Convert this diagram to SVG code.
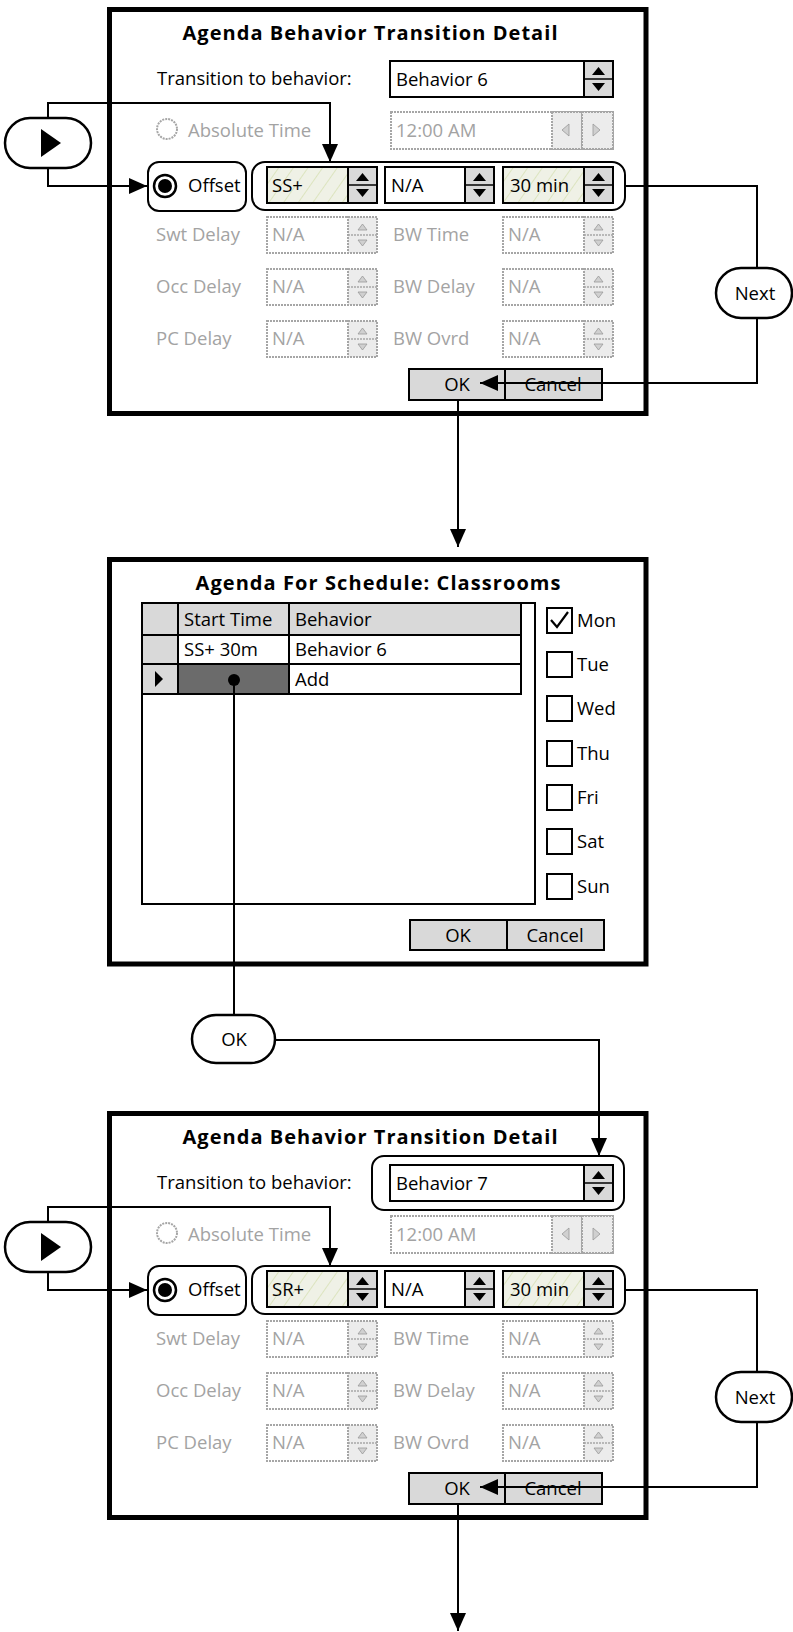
<svg xmlns="http://www.w3.org/2000/svg" xmlns:xlink="http://www.w3.org/1999/xlink" width="793" height="1632" viewBox="0 0 793 1632">
<defs>
<style>
.frame{fill:#fff;stroke:#000;stroke-width:5}
.t{font-family:"Open Sans","Liberation Sans",sans-serif;font-size:18.5px;fill:#000}
.title{font-weight:bold;font-size:20px}
.dis{fill:#a3a3a3}
.box{fill:#fff;stroke:#000;stroke-width:2}
.hbox{fill:url(#hatch);stroke:#000;stroke-width:2}
.spin{fill:#d9d9d9;stroke:#000;stroke-width:2}
.dbox{fill:#fff;stroke:#a6a6a6;stroke-width:2;stroke-dasharray:2 1}
.dspin{fill:#ececec;stroke:#a6a6a6;stroke-width:2;stroke-dasharray:2 1}
.rnd{fill:none;stroke:#000;stroke-width:2}
.pill{fill:#fff;stroke:#000;stroke-width:2.5}
.conn{fill:none;stroke:#000;stroke-width:2}
.btn{fill:#d9d9d9;stroke:#000;stroke-width:2}
.gray{fill:#d9d9d9;stroke:#000;stroke-width:2}
.cb{fill:#fff;stroke:#000;stroke-width:2}
</style>
<pattern id="hatch" width="12" height="12" patternUnits="userSpaceOnUse" patternTransform="rotate(35)">
<rect width="12" height="12" fill="#eff1e6"/>
<line x1="0" y1="0" x2="0" y2="12" stroke="#d6e0b2" stroke-width="1.5"/>
</pattern>
<marker id="arr" viewBox="0 0 18 16" refX="18" refY="8" markerWidth="18" markerHeight="16" markerUnits="userSpaceOnUse" orient="auto">
<path d="M0,0 L18,8 L0,16 z" fill="#000"/>
</marker>
<g id="asp">
<rect width="29" height="36" class="spin"/>
<line x1="0" y1="18" x2="29" y2="18" stroke="#000" stroke-width="1.5"/>
<path d="M8,14 L21,14 L14.5,6 z M8,22 L21,22 L14.5,30 z" fill="#000"/>
</g>
<g id="dsp">
<rect width="29" height="36" class="dspin"/>
<line x1="0" y1="18" x2="29" y2="18" stroke="#a6a6a6" stroke-width="1.5" stroke-dasharray="2 1"/>
<path d="M10,13 L19,13 L14.5,7 z M10,23 L19,23 L14.5,29 z" fill="#d0d0d0" stroke="#999" stroke-width="0.8"/>
</g>
</defs>

<g id="dialog1">
<rect class="frame" x="109.5" y="9.5" width="536.5" height="404"/>
<text class="t title" x="370" y="40" text-anchor="middle" textLength="375" lengthAdjust="spacing">Agenda Behavior Transition Detail</text>
<text class="t" x="157" y="85">Transition to behavior:</text>
<rect class="box" x="390" y="61" width="223" height="36"/>
<use xlink:href="#asp" x="584" y="61"/>
<text class="t" x="396" y="86">Behavior 6</text>
<circle cx="167" cy="129" r="10" fill="#fff" stroke="#a6a6a6" stroke-width="2" stroke-dasharray="2 1"/>
<text class="t dis" x="188" y="137">Absolute Time</text>
<rect class="dbox" x="391" y="112" width="222" height="37"/>
<rect class="dspin" x="552" y="112" width="30" height="37"/>
<rect class="dspin" x="582" y="112" width="31" height="37"/>
<path d="M569,124 L569,136 L562,130 z M593,124 L593,136 L600,130 z" fill="#d0d0d0" stroke="#999" stroke-width="0.8"/>
<text class="t dis" x="396" y="137">12:00 AM</text>
<rect class="rnd" x="148" y="162" width="98" height="49" rx="11"/>
<circle cx="165" cy="186" r="11" fill="#fff" stroke="#000" stroke-width="2.5"/>
<circle cx="165" cy="186" r="7" fill="#000"/>
<text class="t" x="188" y="192">Offset</text>
<rect class="rnd" x="252" y="162" width="373" height="48" rx="13"/>
<rect class="hbox" x="267" y="167" width="110" height="36"/>
<use xlink:href="#asp" x="348" y="167"/>
<text class="t" x="272" y="192">SS+</text>
<rect class="box" x="385" y="167" width="109" height="36"/>
<use xlink:href="#asp" x="465" y="167"/>
<text class="t" x="391" y="192">N/A</text>
<rect class="hbox" x="503" y="167" width="110" height="36"/>
<use xlink:href="#asp" x="584" y="167"/>
<text class="t" x="510" y="192">30 min</text>
<text class="t dis" x="156" y="241">Swt Delay</text>
<rect class="dbox" x="267" y="217" width="110" height="36"/>
<use xlink:href="#dsp" x="348" y="217"/>
<text class="t dis" x="272" y="241">N/A</text>
<text class="t dis" x="393" y="241">BW Time</text>
<rect class="dbox" x="503" y="217" width="110" height="36"/>
<use xlink:href="#dsp" x="584" y="217"/>
<text class="t dis" x="508" y="241">N/A</text>
<text class="t dis" x="156" y="293">Occ Delay</text>
<rect class="dbox" x="267" y="269" width="110" height="36"/>
<use xlink:href="#dsp" x="348" y="269"/>
<text class="t dis" x="272" y="293">N/A</text>
<text class="t dis" x="393" y="293">BW Delay</text>
<rect class="dbox" x="503" y="269" width="110" height="36"/>
<use xlink:href="#dsp" x="584" y="269"/>
<text class="t dis" x="508" y="293">N/A</text>
<text class="t dis" x="156" y="345">PC Delay</text>
<rect class="dbox" x="267" y="321" width="110" height="36"/>
<use xlink:href="#dsp" x="348" y="321"/>
<text class="t dis" x="272" y="345">N/A</text>
<text class="t dis" x="393" y="345">BW Ovrd</text>
<rect class="dbox" x="503" y="321" width="110" height="36"/>
<use xlink:href="#dsp" x="584" y="321"/>
<text class="t dis" x="508" y="345">N/A</text>
<rect class="btn" x="409" y="369" width="193" height="31"/>
<line x1="505" y1="369" x2="505" y2="400" stroke="#000" stroke-width="2"/>
<text class="t" x="457" y="391" text-anchor="middle">OK</text>
<text class="t" x="553" y="391" text-anchor="middle">Cancel</text>
</g>

<g id="dialog2">
<rect class="frame" x="109.5" y="559.5" width="536.5" height="404.5"/>
<text class="t title" x="378" y="590" text-anchor="middle" textLength="365" lengthAdjust="spacing">Agenda For Schedule: Classrooms</text>
<rect x="142" y="603" width="393" height="301" fill="#fff" stroke="#000" stroke-width="2"/>
<rect class="gray" x="142" y="603" width="379" height="32"/>
<rect class="box" x="142" y="635" width="379" height="29"/>
<rect class="box" x="142" y="664" width="379" height="30"/>
<rect class="gray" x="142" y="635" width="36" height="29"/>
<rect class="gray" x="142" y="664" width="36" height="30"/>
<rect x="178" y="664" width="111" height="30" fill="#6b6b6b" stroke="#000" stroke-width="2"/>
<line x1="178" y1="603" x2="178" y2="694" stroke="#000" stroke-width="2"/>
<line x1="289" y1="603" x2="289" y2="694" stroke="#000" stroke-width="2"/>
<path d="M155,671 L163,679 L155,687 z" fill="#000"/>
<text class="t" x="184" y="626">Start Time</text>
<text class="t" x="295" y="626">Behavior</text>
<text class="t" x="184" y="656">SS+ 30m</text>
<text class="t" x="295" y="656">Behavior 6</text>
<text class="t" x="295" y="686">Add</text>
<rect class="cb" x="547" y="608" width="25" height="25"/>
<path d="M551,620 L557,627 L568,612" fill="none" stroke="#000" stroke-width="2.2"/>
<text class="t" x="577" y="627">Mon</text>
<rect class="cb" x="547" y="652" width="25" height="25"/>
<text class="t" x="577" y="671">Tue</text>
<rect class="cb" x="547" y="696" width="25" height="25"/>
<text class="t" x="577" y="715">Wed</text>
<rect class="cb" x="547" y="741" width="25" height="25"/>
<text class="t" x="577" y="760">Thu</text>
<rect class="cb" x="547" y="785" width="25" height="25"/>
<text class="t" x="577" y="804">Fri</text>
<rect class="cb" x="547" y="829" width="25" height="25"/>
<text class="t" x="577" y="848">Sat</text>
<rect class="cb" x="547" y="874" width="25" height="25"/>
<text class="t" x="577" y="893">Sun</text>
<rect class="btn" x="410" y="920" width="194" height="30"/>
<line x1="507" y1="920" x2="507" y2="950" stroke="#000" stroke-width="2"/>
<text class="t" x="458" y="942" text-anchor="middle">OK</text>
<text class="t" x="555" y="942" text-anchor="middle">Cancel</text>
</g>

<g id="dialog3" transform="translate(0,1104)">
<rect class="frame" x="109.5" y="9.5" width="536.5" height="404"/>
<text class="t title" x="370" y="40" text-anchor="middle" textLength="375" lengthAdjust="spacing">Agenda Behavior Transition Detail</text>
<text class="t" x="157" y="85">Transition to behavior:</text>
<rect class="rnd" x="372" y="52" width="252" height="54" rx="12"/>
<rect class="box" x="390" y="61" width="223" height="36"/>
<use xlink:href="#asp" x="584" y="61"/>
<text class="t" x="396" y="86">Behavior 7</text>
<circle cx="167" cy="129" r="10" fill="#fff" stroke="#a6a6a6" stroke-width="2" stroke-dasharray="2 1"/>
<text class="t dis" x="188" y="137">Absolute Time</text>
<rect class="dbox" x="391" y="112" width="222" height="37"/>
<rect class="dspin" x="552" y="112" width="30" height="37"/>
<rect class="dspin" x="582" y="112" width="31" height="37"/>
<path d="M569,124 L569,136 L562,130 z M593,124 L593,136 L600,130 z" fill="#d0d0d0" stroke="#999" stroke-width="0.8"/>
<text class="t dis" x="396" y="137">12:00 AM</text>
<rect class="rnd" x="148" y="162" width="98" height="49" rx="11"/>
<circle cx="165" cy="186" r="11" fill="#fff" stroke="#000" stroke-width="2.5"/>
<circle cx="165" cy="186" r="7" fill="#000"/>
<text class="t" x="188" y="192">Offset</text>
<rect class="rnd" x="252" y="162" width="373" height="48" rx="13"/>
<rect class="hbox" x="267" y="167" width="110" height="36"/>
<use xlink:href="#asp" x="348" y="167"/>
<text class="t" x="272" y="192">SR+</text>
<rect class="box" x="385" y="167" width="109" height="36"/>
<use xlink:href="#asp" x="465" y="167"/>
<text class="t" x="391" y="192">N/A</text>
<rect class="hbox" x="503" y="167" width="110" height="36"/>
<use xlink:href="#asp" x="584" y="167"/>
<text class="t" x="510" y="192">30 min</text>
<text class="t dis" x="156" y="241">Swt Delay</text>
<rect class="dbox" x="267" y="217" width="110" height="36"/>
<use xlink:href="#dsp" x="348" y="217"/>
<text class="t dis" x="272" y="241">N/A</text>
<text class="t dis" x="393" y="241">BW Time</text>
<rect class="dbox" x="503" y="217" width="110" height="36"/>
<use xlink:href="#dsp" x="584" y="217"/>
<text class="t dis" x="508" y="241">N/A</text>
<text class="t dis" x="156" y="293">Occ Delay</text>
<rect class="dbox" x="267" y="269" width="110" height="36"/>
<use xlink:href="#dsp" x="348" y="269"/>
<text class="t dis" x="272" y="293">N/A</text>
<text class="t dis" x="393" y="293">BW Delay</text>
<rect class="dbox" x="503" y="269" width="110" height="36"/>
<use xlink:href="#dsp" x="584" y="269"/>
<text class="t dis" x="508" y="293">N/A</text>
<text class="t dis" x="156" y="345">PC Delay</text>
<rect class="dbox" x="267" y="321" width="110" height="36"/>
<use xlink:href="#dsp" x="348" y="321"/>
<text class="t dis" x="272" y="345">N/A</text>
<text class="t dis" x="393" y="345">BW Ovrd</text>
<rect class="dbox" x="503" y="321" width="110" height="36"/>
<use xlink:href="#dsp" x="584" y="321"/>
<text class="t dis" x="508" y="345">N/A</text>
<rect class="btn" x="409" y="369" width="193" height="31"/>
<line x1="505" y1="369" x2="505" y2="400" stroke="#000" stroke-width="2"/>
<text class="t" x="457" y="391" text-anchor="middle">OK</text>
<text class="t" x="553" y="391" text-anchor="middle">Cancel</text>
</g>

<g id="connectors">
<path class="conn" d="M48,118 V103 H330 V162" marker-end="url(#arr)"/>
<path class="conn" d="M48,168 V186 H147" marker-end="url(#arr)"/>
<path class="conn" d="M625,186 H757 V268"/>
<path class="conn" d="M757,318 V383 H480" marker-end="url(#arr)"/>
<path class="conn" d="M458,400 V547" marker-end="url(#arr)"/>
<circle cx="234" cy="680" r="6" fill="#000"/>
<path class="conn" d="M234,680 V1015"/>
<path class="conn" d="M275,1040 H599 V1156" marker-end="url(#arr)"/>
<path class="conn" d="M48,1222 V1207 H330 V1266" marker-end="url(#arr)"/>
<path class="conn" d="M48,1272 V1290 H147" marker-end="url(#arr)"/>
<path class="conn" d="M625,1290 H757 V1372"/>
<path class="conn" d="M757,1422 V1487 H480" marker-end="url(#arr)"/>
<path class="conn" d="M458,1504 V1631" marker-end="url(#arr)"/>
</g>

<g id="play1">
<rect class="pill" x="5" y="118" width="86" height="50" rx="25"/>
<path d="M41,129 L61,143 L41,157 z" fill="#000"/>
</g>
<g id="next1">
<rect class="pill" x="716" y="268" width="76" height="50" rx="25"/>
<text class="t" x="755" y="300" text-anchor="middle">Next</text>
</g>
<g id="okpill">
<rect class="pill" x="192" y="1015" width="83" height="48" rx="24"/>
<text class="t" x="234" y="1046" text-anchor="middle">OK</text>
</g>
<g id="play3">
<rect class="pill" x="5" y="1222" width="86" height="50" rx="25"/>
<path d="M41,1233 L61,1247 L41,1261 z" fill="#000"/>
</g>
<g id="next3">
<rect class="pill" x="716" y="1372" width="76" height="50" rx="25"/>
<text class="t" x="755" y="1404" text-anchor="middle">Next</text>
</g>
</svg>
